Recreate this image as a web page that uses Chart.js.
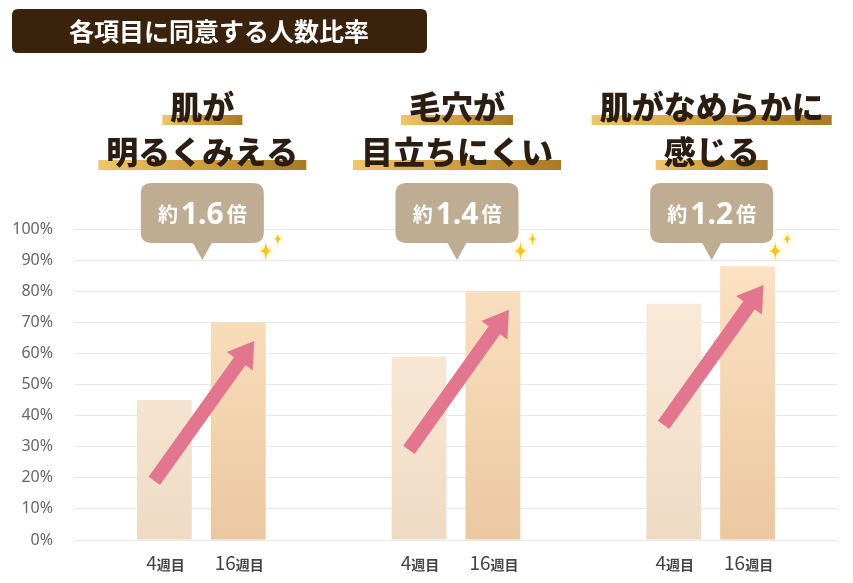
<!DOCTYPE html>
<html>
<head>
<meta charset="utf-8">
<script src="https://cdn.jsdelivr.net/npm/chart.js@4.4.1/dist/chart.umd.min.js"></script>
<style>
  html, body { margin: 0; padding: 0; background: #fff; }
  canvas { display: block; }
</style>
</head>
<body>
<canvas id="myChart" width="853" height="583"></canvas>
<script>
// chart data
const chartTitle = '各項目に同意する人数比率';
const categories = ['肌が明るくみえる', '毛穴が目立ちにくい', '肌がなめらかに感じる'];
const titleLines = [['肌が', '明るくみえる'], ['毛穴が', '目立ちにくい'], ['肌がなめらかに', '感じる']];
const weekNums = ['4', '16'];
const weekUnit = '週目';
const week4 = [45, 59, 76];
const week16 = [70, 80, 88];
const ratioLabels = ['1.6', '1.4', '1.2'];

const JP = '"Noto Sans CJK JP", "Noto Sans", sans-serif';

function barGradient(top, bottom) {
    return (ctx) => {
        const area = ctx.chart.chartArea;
        if (!area) return bottom;
        const g = ctx.chart.ctx.createLinearGradient(0, area.top, 0, area.bottom);
        g.addColorStop(0, top);
        g.addColorStop(1, bottom);
        return g;
    };
}

function roundRect(c, x, y, w, h, r) {
    c.beginPath();
    c.moveTo(x + r, y);
    c.lineTo(x + w - r, y);
    c.quadraticCurveTo(x + w, y, x + w, y + r);
    c.lineTo(x + w, y + h - r);
    c.quadraticCurveTo(x + w, y + h, x + w - r, y + h);
    c.lineTo(x + r, y + h);
    c.quadraticCurveTo(x, y + h, x, y + h - r);
    c.lineTo(x, y + r);
    c.quadraticCurveTo(x, y, x + r, y);
    c.closePath();
}

function sparkle(c, x, y, r) {
    c.beginPath();
    c.moveTo(x, y - r * 1.8);
    c.quadraticCurveTo(x, y, x + r, y);
    c.quadraticCurveTo(x, y, x, y + r * 1.8);
    c.quadraticCurveTo(x, y, x - r, y);
    c.quadraticCurveTo(x, y, x, y - r * 1.8);
    c.closePath();
    c.fill();
}

// arrows, titles, bubbles and labels drawn on top of the bars
const decorations = {
    id: 'decorations',
    afterDatasetsDraw(chart) {
        const c = chart.ctx;
        const y = chart.scales.y;
        const m0 = chart.getDatasetMeta(0).data;
        const m1 = chart.getDatasetMeta(1).data;

        // pink arrows
        categories.forEach((cat, i) => {
            const hx = m1[i].x + 16;
            const hy = y.getPixelForValue(week16[i] - 6);
            const tx = hx - 100;
            const ty = y.getPixelForValue(week16[i] - 51);
            const ang = Math.atan2(hy - ty, hx - tx);
            const len = Math.hypot(hx - tx, hy - ty);
            c.save();
            c.translate(tx, ty);
            c.rotate(ang);
            c.fillStyle = '#e2768f';
            c.beginPath();
            c.moveTo(0, -7);
            c.lineTo(len - 25, -7);
            c.lineTo(len - 25, -16);
            c.lineTo(len, 0);
            c.lineTo(len - 25, 16);
            c.lineTo(len - 25, 7);
            c.lineTo(0, 7);
            c.closePath();
            c.fill();
            c.restore();
        });

        // x labels under each bar
        [m0, m1].forEach((meta, d) => {
            meta.forEach((bar) => {
                c.save();
                c.fillStyle = '#444';
                c.textBaseline = 'alphabetic';
                c.font = '19px ' + JP;
                const nw = c.measureText(weekNums[d]).width;
                c.font = 'bold 14px ' + JP;
                const uw = c.measureText(weekUnit).width;
                const x0 = bar.x - (nw + uw) / 2 + 1;
                c.font = '19px ' + JP;
                c.textAlign = 'left';
                c.fillText(weekNums[d], x0, 570);
                c.font = 'bold 14px ' + JP;
                c.fillText(weekUnit, x0 + nw, 570);
                c.restore();
            });
        });

        // titles, bubbles and sparkles
        categories.forEach((cat, i) => {
            const cx = (m0[i].x + m1[i].x) / 2 + 1;
            c.save();
            c.font = '900 32px ' + JP;
            c.textAlign = 'center';
            c.textBaseline = 'middle';
            const ys = [107, 152];
            titleLines[i].forEach((line, k) => {
                const w = c.measureText(line).width;
                const hx = cx - w / 2 - 8;
                const hw = w + 16;
                const g = c.createLinearGradient(hx, 0, hx + hw, 0);
                g.addColorStop(0, '#edc76c');
                g.addColorStop(0.5, '#cf9e3d');
                g.addColorStop(1, '#a87a26');
                c.fillStyle = g;
                c.fillRect(hx, ys[k] + 8, hw, 10);
                c.fillStyle = '#2b1d12';
                c.fillText(line, cx, ys[k]);
            });
            c.restore();

            // bubble
            const bw = 123, bh = 60, bx = cx - bw / 2, by = 183;
            c.save();
            c.fillStyle = '#bead92';
            roundRect(c, bx, by, bw, bh, 11);
            c.fill();
            c.beginPath();
            c.moveTo(cx - 10, by + bh - 1);
            c.lineTo(cx + 10, by + bh - 1);
            c.lineTo(cx, by + bh + 17);
            c.closePath();
            c.fill();
            c.fillStyle = '#fff';
            c.textBaseline = 'alphabetic';
            c.textAlign = 'left';
            c.font = 'bold 20px ' + JP;
            const w1 = c.measureText('約').width;
            const w3 = c.measureText('倍').width;
            c.font = 'bold 30px "Noto Sans", sans-serif';
            const w2 = c.measureText(ratioLabels[i]).width;
            let x = cx - (w1 + w2 + w3 + 6) / 2;
            c.font = 'bold 20px ' + JP;
            c.fillText('約', x, 222);
            x += w1 + 3;
            c.font = 'bold 30px "Noto Sans", sans-serif';
            c.fillText(ratioLabels[i], x, 224);
            x += w2 + 3;
            c.font = 'bold 20px ' + JP;
            c.fillText('倍', x, 222);

            // sparkles
            c.fillStyle = '#f6c21c';
            c.shadowColor = 'rgba(255, 220, 80, 0.9)';
            c.shadowBlur = 6;
            sparkle(c, bx + bw + 2, by + bh + 8, 6);
            sparkle(c, bx + bw + 14, by + bh - 4, 4);
            c.restore();
        });

        // header
        c.save();
        c.fillStyle = '#3a220d';
        roundRect(c, 12, 9, 415, 44, 6);
        c.fill();
        c.fillStyle = '#fff';
        c.font = 'bold 25px ' + JP;
        c.textAlign = 'center';
        c.textBaseline = 'middle';
        c.fillText(chartTitle, 219, 31);
        c.restore();
    }
};

new Chart(document.getElementById('myChart'), {
    type: 'bar',
    data: {
        labels: categories,
        datasets: [{
            label: weekNums[0] + weekUnit,
            data: week4,
            backgroundColor: barGradient('#fcefdf', '#efdbc4'),
            categoryPercentage: 0.58,
            barPercentage: 0.743
        }, {
            label: weekNums[1] + weekUnit,
            data: week16,
            backgroundColor: barGradient('#fde5c6', '#ebc8a0'),
            categoryPercentage: 0.58,
            barPercentage: 0.743
        }]
    },
    options: {
        responsive: false,
        animation: false,
        layout: { padding: { top: 229, bottom: 43, right: 15, left: 0 } },
        plugins: {
            legend: { display: false },
            tooltip: { enabled: false }
        },
        scales: {
            x: { display: false },
            y: {
                min: 0,
                max: 100,
                afterFit: (s) => { s.width = 74; },
                ticks: {
                    stepSize: 10,
                    padding: 21,
                    color: '#666',
                    font: { family: '"Noto Sans", sans-serif', size: 16 },
                    callback: (v) => v + '%'
                },
                grid: { color: '#e8e8e8', drawTicks: false },
                border: { display: false }
            }
        }
    },
    plugins: [decorations]
});
</script>
</body>
</html>
